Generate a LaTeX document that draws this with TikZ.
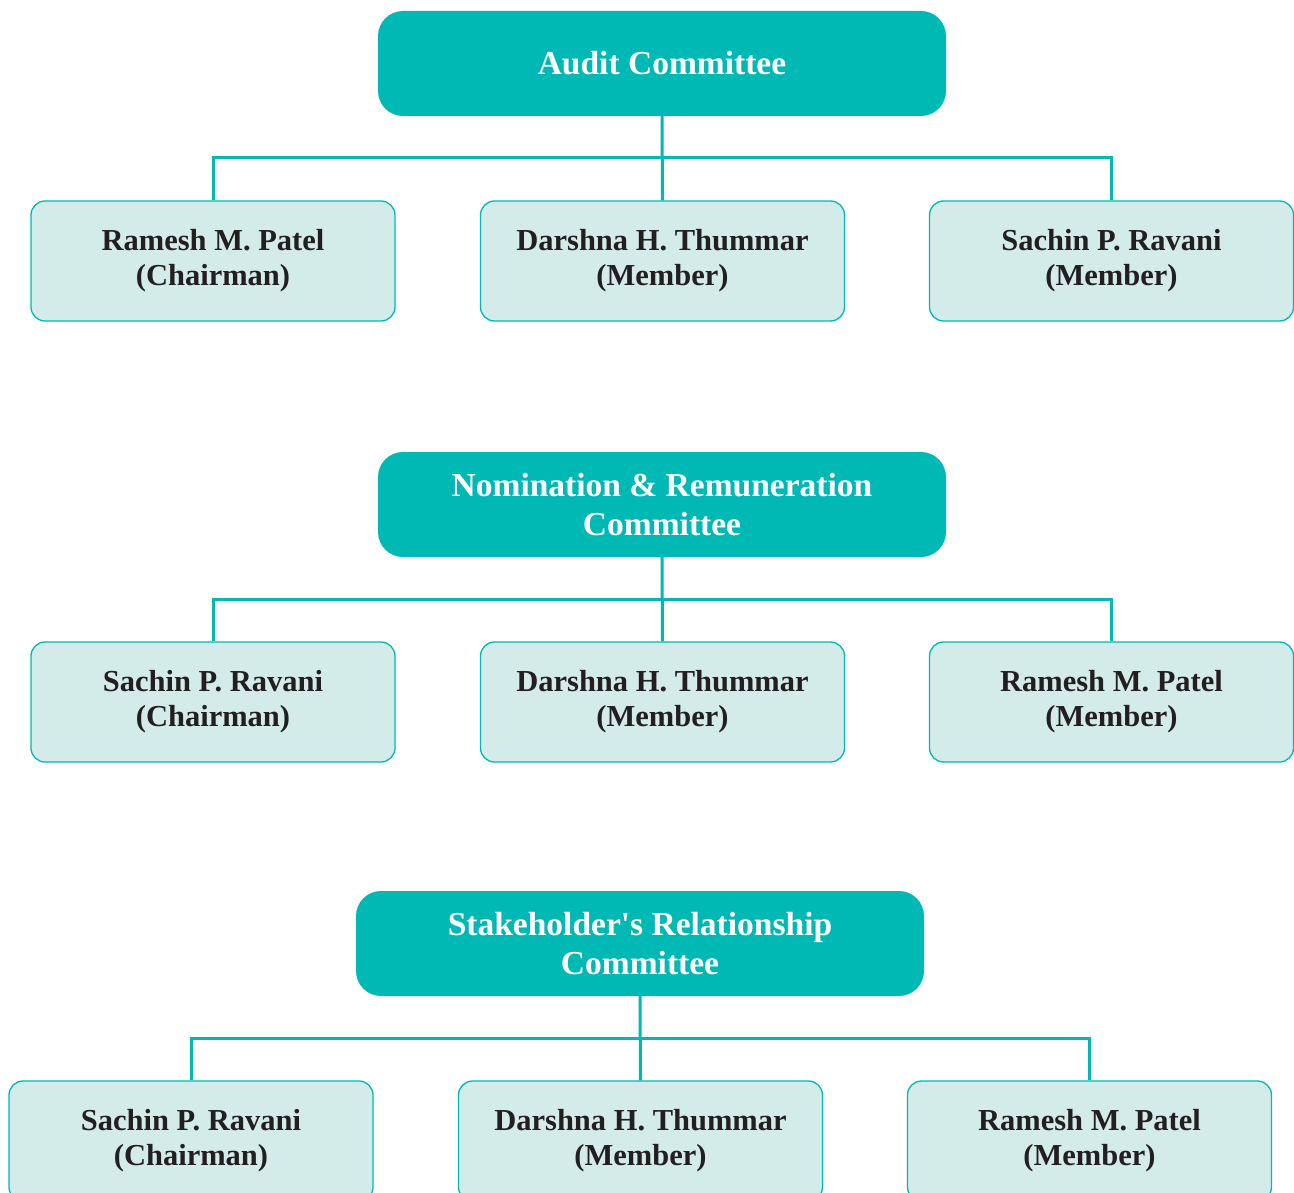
\documentclass[tikz,border=0pt]{standalone}
\usepackage{fontspec}
\setmainfont{Liberation Serif}
\newfontfamily\rawf[Ligatures=TeXOff]{Liberation Serif}
\definecolor{teal1}{HTML}{00B9B5}
\definecolor{pale}{HTML}{D4ECE9}
\definecolor{ink}{HTML}{231F20}
\begin{document}
\begin{tikzpicture}[x=1pt,y=-1pt,
  head/.style={draw=none,fill=teal1,rounded corners=25pt,minimum width=568pt,minimum height=105pt,
     text=white,font=\bfseries\fontsize{33.5}{38.5}\selectfont,align=center,inner sep=0pt},
  member/.style={draw=teal1,line width=1.3pt,fill=pale,rounded corners=14pt,minimum width=364pt,minimum height=120pt,
     text=ink,font=\bfseries\fontsize{30.5}{35}\selectfont,align=center,inner sep=0pt},
  link/.style={draw=teal1,line width=3pt}]
\useasboundingbox (0,0) rectangle (1294,1193);
% Block 1
\node[head] (h1) at (662,63.5) {Audit Committee};
\node[member] (a1) at (213,261) {Ramesh M. Patel\\(Chairman)};
\node[member] (a2) at (662.5,261) {Darshna H. Thummar\\(Member)};
\node[member] (a3) at (1111.5,261) {Sachin P. Ravani\\(Member)};
\coordinate (j1) at (662,158);
\draw[link] (h1.south) -- (a2.north);
\draw[link] (a1.north) |- (j1) -| (a3.north);
% Block 2
\node[head] (h2) at (662,504.5) {Nomination \& Remuneration\\Committee};
\node[member] (b1) at (213,702) {Sachin P. Ravani\\(Chairman)};
\node[member] (b2) at (662.5,702) {Darshna H. Thummar\\(Member)};
\node[member] (b3) at (1111.5,702) {Ramesh M. Patel\\(Member)};
\coordinate (j2) at (662,599);
\draw[link] (h2.south) -- (b2.north);
\draw[link] (b1.north) |- (j2) -| (b3.north);
% Block 3
\node[head] (h3) at (640,943.5) {Stakeholder{\rawf '}s Relationship\\Committee};
\node[member] (c1) at (191,1141) {Sachin P. Ravani\\(Chairman)};
\node[member] (c2) at (640.5,1141) {Darshna H. Thummar\\(Member)};
\node[member] (c3) at (1089.5,1141) {Ramesh M. Patel\\(Member)};
\coordinate (j3) at (640,1038);
\draw[link] (h3.south) -- (c2.north);
\draw[link] (c1.north) |- (j3) -| (c3.north);
\end{tikzpicture}
\end{document}
